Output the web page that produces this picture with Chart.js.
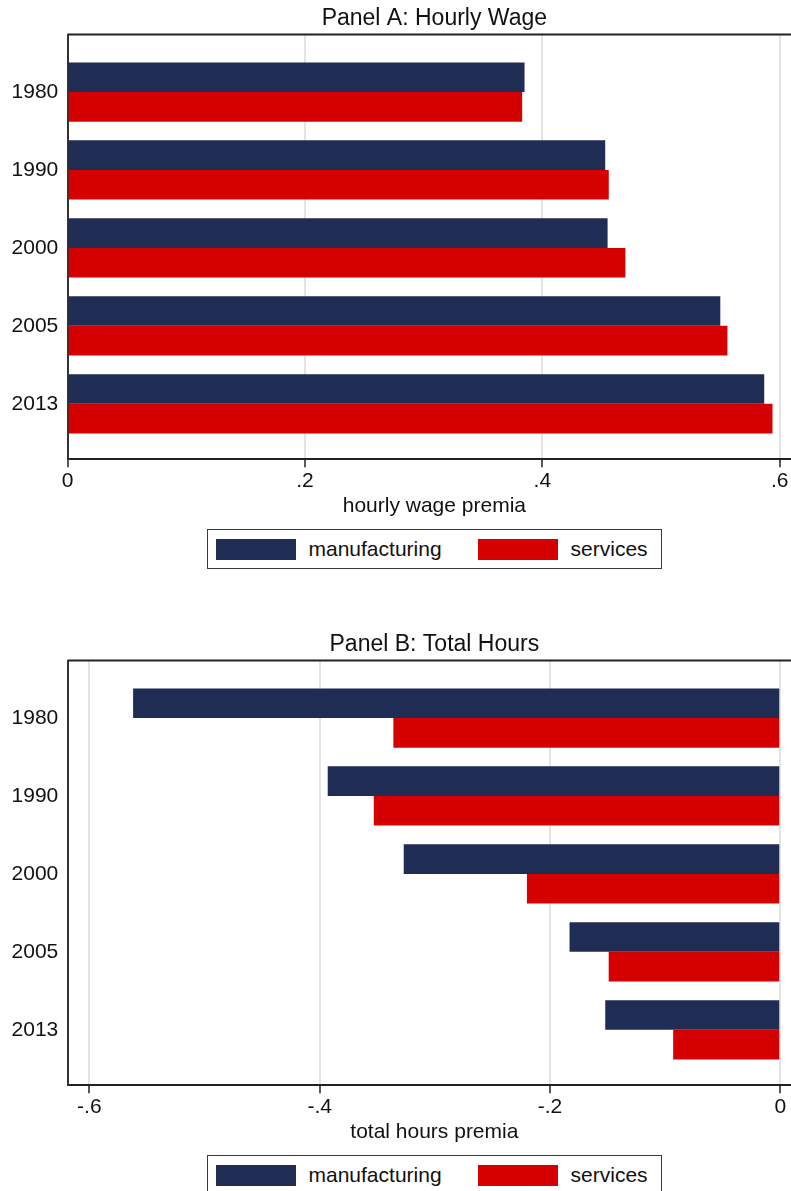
<!DOCTYPE html>
<html><head><meta charset="utf-8">
<script src="https://cdn.jsdelivr.net/npm/chart.js@4"></script>
<style>
html,body{margin:0;padding:0;background:#fff;overflow:hidden;width:791px;height:1191px}
.panel{position:absolute;left:0;width:801px;height:626px}
canvas{position:absolute;left:0;top:0}
.legend{position:absolute;left:207px;top:529px;width:455px;height:40px;box-sizing:border-box;border:1.5px solid #3a3a3a;display:flex;align-items:center;padding-left:8px;font:21px "Liberation Sans",Arial,sans-serif;color:#111;white-space:nowrap}
.sw{width:80px;height:21px;flex:none}
.lt{margin-left:12.5px}
.gap{width:36.5px;flex:none}
</style></head>
<body>
<div class="panel" style="top:0"><canvas id="cA" width="801" height="520"></canvas><div class="legend" id="lA"></div></div>
<div class="panel" style="top:626px"><canvas id="cB" width="801" height="520"></canvas><div class="legend" id="lB"></div></div>
<script>
const years = ['1980', '1990', '2000', '2005', '2013'];
const seriesNames = ['manufacturing', 'services'];
const wageManufacturing = [0.385, 0.453, 0.455, 0.550, 0.587];
const wageServices      = [0.383, 0.456, 0.470, 0.556, 0.594];
const hoursManufacturing = [-0.562, -0.393, -0.327, -0.183, -0.152];
const hoursServices      = [-0.336, -0.353, -0.220, -0.149, -0.093];
const wageTicks  = [0, 0.2, 0.4, 0.6];
const hoursTicks = [-0.6, -0.4, -0.2, 0];

const COLORS = ['#1f2d55', '#d50000'];
const FAMILY = '"Liberation Sans", Arial, sans-serif';
const TXT = '#111';

function fmt(v) {
  if (Math.abs(v) < 1e-9) return '0';
  const s = String(Math.abs(Math.round(v * 1000) / 1000)).replace(/^0/, '');
  return (v < 0 ? '-' : '') + s;
}

const frame = {
  id: 'frame',
  afterDraw(chart) {
    const {ctx, chartArea: a} = chart;
    ctx.save();
    ctx.strokeStyle = '#222';
    ctx.lineWidth = 2;
    ctx.beginPath();
    ctx.moveTo(a.left, a.top);
    ctx.lineTo(a.right, a.top);
    ctx.lineTo(a.right, a.bottom);
    ctx.stroke();
    ctx.restore();
  }
};

function buildLegend(id) {
  const el = document.getElementById(id);
  seriesNames.forEach((n, i) => {
    if (i > 0) { const g = document.createElement('div'); g.className = 'gap'; el.appendChild(g); }
    const s = document.createElement('div'); s.className = 'sw'; s.style.background = COLORS[i]; el.appendChild(s);
    const t = document.createElement('span'); t.className = 'lt'; t.textContent = n; el.appendChild(t);
  });
}

function makePanel(canvasId, title, axisTitle, manuf, serv, ticks, xmin, xmax) {
  new Chart(document.getElementById(canvasId), {
    type: 'bar',
    data: {
      datasets: [
        {label: seriesNames[0], data: manuf.map((v, i) => ({x: v, y: i})), backgroundColor: COLORS[0]},
        {label: seriesNames[1], data: serv.map((v, i) => ({x: v, y: i})), backgroundColor: COLORS[1]}
      ]
    },
    options: {
      indexAxis: 'y',
      responsive: false,
      animation: false,
      layout: {padding: 0},
      datasets: {bar: {categoryPercentage: 0.76, barPercentage: 1}},
      plugins: {
        legend: {display: false},
        tooltip: {enabled: false},
        title: {display: true, text: title, fullSize: false, color: TXT,
                font: {family: FAMILY, size: 23, weight: 'normal'}, padding: {top: 4.5, bottom: 2.5}}
      },
      scales: {
        x: {
          type: 'linear', min: xmin, max: xmax,
          afterBuildTicks: s => { s.ticks = ticks.map(v => ({value: v})); },
          afterFit: s => { s.height = 60.7; },
          grid: {color: '#e4e4e4', lineWidth: 2, tickLength: 8, tickColor: '#222', tickWidth: 1.5},
          border: {color: '#222', width: 2},
          ticks: {padding: 1, color: TXT, font: {family: FAMILY, size: 21}, callback: v => fmt(v)},
          title: {display: true, text: axisTitle, color: TXT, font: {family: FAMILY, size: 21}, padding: {top: 0, bottom: 1.5}}
        },
        y: {
          type: 'linear', reverse: true, min: -0.737, max: 4.712, offset: false,
          afterBuildTicks: s => { s.ticks = years.map((_, i) => ({value: i})); },
          afterFit: s => { s.width = 67.7; },
          grid: {display: false, drawTicks: false, offset: false},
          border: {color: '#333', width: 2},
          ticks: {padding: 9.4, color: TXT, font: {family: FAMILY, size: 21}, callback: v => years[v]}
        }
      }
    },
    plugins: [frame]
  });
}

makePanel('cA', 'Panel A: Hourly Wage', 'hourly wage premia', wageManufacturing, wageServices, wageTicks, 0, 0.618);
makePanel('cB', 'Panel B: Total Hours', 'total hours premia', hoursManufacturing, hoursServices, hoursTicks, -0.6188, 0.018);
buildLegend('lA');
buildLegend('lB');
</script>
</body></html>
